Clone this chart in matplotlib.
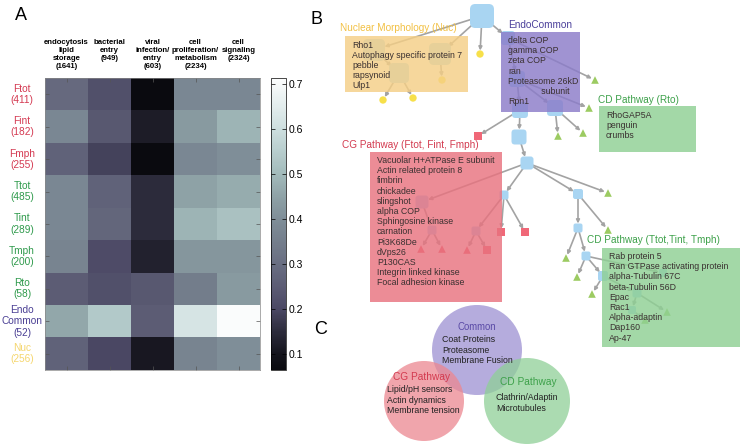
import matplotlib
matplotlib.use("Agg")
import matplotlib.pyplot as plt
from matplotlib.patches import FancyBboxPatch, Rectangle, Circle
from matplotlib.colors import LinearSegmentedColormap
import numpy as np

plt.rcParams['font.family'] = ['Liberation Sans', 'DejaVu Sans']

# ---------------- Panel A data ----------------
col_labels = ["endocytosis\nlipid\nstorage\n(1641)", "bacterial\nentry\n(949)",
              "viral\ninfection/\nentry\n(603)", "cell\nproliferation/\nmetabolism\n(2234)",
              "cell\nsignaling\n(2324)"]
row_labels = ["Ftot\n(411)", "Fint\n(182)", "Fmph\n(255)", "Ttot\n(485)", "Tint\n(289)",
              "Tmph\n(200)", "Rto\n(58)", "Endo\nCommon\n(52)", "Nuc\n(256)"]
row_colors = ["#d43a52", "#d43a52", "#d43a52", "#2f9a4c", "#2f9a4c", "#2f9a4c", "#2f9a4c",
              "#4a3f94", "#f5d66e"]
values = np.array([
    [0.29, 0.22, 0.07, 0.38, 0.38],
    [0.38, 0.24, 0.12, 0.43, 0.49],
    [0.27, 0.19, 0.065, 0.38, 0.40],
    [0.38, 0.27, 0.15, 0.45, 0.47],
    [0.38, 0.28, 0.15, 0.49, 0.52],
    [0.37, 0.21, 0.13, 0.42, 0.42],
    [0.25, 0.22, 0.24, 0.35, 0.43],
    [0.46, 0.54, 0.25, 0.62, 0.71],
    [0.27, 0.20, 0.11, 0.37, 0.40],
])
cbar_ticks = [0.1, 0.2, 0.3, 0.4, 0.5, 0.6, 0.7]

# colormap stops (value, rgb) sampled from the reference colorbar
cmap_vals = [0.065, 0.10, 0.15, 0.20, 0.25, 0.30, 0.35, 0.40, 0.45, 0.50, 0.55, 0.60, 0.65, 0.713]
cmap_rgb = [(10, 10, 15), (20, 20, 28), (45, 44, 60), (75, 72, 100), (92, 92, 116),
            (105, 110, 130), (116, 126, 140), (127, 142, 152), (142, 162, 166),
            (162, 186, 186), (183, 205, 205), (205, 222, 222), (226, 236, 236), (252, 253, 253)]

# ---------------- Panel B data ----------------
nodes = {
    "root": (482, 16, "hub", 24), "na": (374, 50, "hub", 22), "nb": (440, 54, "hub", 22),
    "nc": (399, 73, "hub", 20), "d1": (480, 54, "dot", 0), "d2": (442, 80, "dot", 0),
    "d3": (383, 100, "dot", 0), "d4": (413, 98, "dot", 0),
    "e0": (508, 38, "hub", 14), "e1": (517, 79, "hub", 16), "e2": (520, 110, "hub", 16),
    "e3": (555, 108, "hub", 16), "t1": (595, 80, "tri", 0), "t2": (589, 108, "tri", 0),
    "t3": (558, 136, "tri", 0), "t4": (583, 133, "tri", 0), "s1": (478, 136, "sq", 0),
    "h1": (519, 137, "hub", 15), "h2": (527, 163, "hub", 13), "h3": (504, 195, "hub", 9),
    "h4": (578, 194, "hub", 10), "t5": (608, 193, "tri", 0), "g1": (422, 202, "hub", 13),
    "g2": (432, 230, "hub", 9), "rt1": (421, 249, "rtri", 0), "rt2": (442, 249, "rtri", 0),
    "h5": (476, 231, "hub", 9), "s2": (501, 232, "sq", 0), "s3": (525, 232, "sq", 0),
    "rt3": (467, 250, "rtri", 0), "s4": (487, 250, "sq", 0), "h6": (578, 228, "hub", 9),
    "t6": (608, 230, "tri", 0), "h7": (586, 256, "hub", 9), "t7": (566, 258, "tri", 0),
    "h8": (603, 276, "hub", 10), "t8": (577, 277, "tri", 0), "t9": (592, 294, "tri", 0),
    "h9": (663, 273, "hub", 8), "h10": (637, 293, "hub", 9), "t10": (667, 312, "tri", 0),
    "h11": (632, 310, "hub", 8), "t11": (645, 320, "tri", 0),
}
edges = [("root", "na"), ("root", "nb"), ("root", "d1"), ("root", "e0"), ("na", "nc"),
         ("nc", "d3"), ("nc", "d4"), ("nb", "d2"), ("e0", "t1"), ("e0", "e1"), ("e1", "e2"),
         ("e1", "e3"), ("e1", "t2"), ("e3", "t3"), ("e3", "t4"), ("e2", "s1"), ("e2", "h1"),
         ("h1", "h2"), ("h2", "g1"), ("h2", "h3"), ("h2", "h4"), ("h2", "t5"), ("g1", "g2"),
         ("g2", "rt1"), ("g2", "rt2"), ("h3", "h5"), ("h3", "s2"), ("h3", "s3"), ("h5", "rt3"),
         ("h5", "s4"), ("h4", "h6"), ("h4", "t6"), ("h6", "h7"), ("h6", "t7"), ("h7", "h8"),
         ("h7", "t8"), ("h7", "h9"), ("h8", "t9"), ("h8", "h10"), ("h10", "h11"),
         ("h10", "t10"), ("h11", "t11")]

boxes = [
    # x0, y0, x1, y1, face, title, title_x, title_y, title_color, lines
    (345, 36, 468, 92, "#f5cf86", "Nuclear Morphology (Nuc)", 340, 28, "#f2c043",
     ["Rho1", "Autophagy specific protein 7", "pebble", "rapsynoid", "Ulp1"]),
    (501, 32, 580, 112, "#8b7cc9", "EndoCommon", 508, 25, "#4a3f9a",
     ["delta COP", "gamma COP", "zeta COP", "ran", "Proteasome 26kD", "              subunit", "Rpn1"]),
    (599, 106, 696, 152, "#8fd094", "CD Pathway (Rto)", 598, 100, "#3da14a",
     ["RhoGAP5A", "penguin", "crumbs"]),
    (370, 152, 502, 302, "#e8737f", "CG Pathway (Ftot, Fint, Fmph)", 342, 145, "#d33a4f",
     ["Vacuolar H+ATPase E subunit", "Actin related protein 8", "fimbrin", "chickadee",
      "slingshot", "alpha COP", "Sphingosine kinase", "carnation", "Pi3K68De", "dVps26",
      "P130CAS", "Integrin linked kinase", "Focal adhesion kinase"]),
    (602, 248, 740, 347, "#8fd094", "CD Pathway (Ttot,Tint, Tmph)", 587, 240, "#3da14a",
     ["Rab protein 5", "Ran GTPase activating protein", "alpha-Tubulin 67C", "beta-Tubulin 56D",
      "Epac", "Rac1", "Alpha-adaptin", "Dap160", "Ap-47"]),
]

# ---------------- Panel C data ----------------
venn = [
    # cx, cy, r, face, title, title_color, lines
    (477, 350, 45, "#9d91d2", "Common", "#5a4aa6", ["Coat Proteins", "Proteasome", "Membrane Fusion"]),
    (424, 401, 40, "#ec8790", "CG Pathway", "#d33a4f", ["Lipid/pH sensors", "Actin dynamics", "Membrane tension"]),
    (527, 401, 43, "#8fd097", "CD Pathway", "#3da14a", ["Clathrin/Adaptin", "Microtubules"]),
]

W, H = 740, 445
fig = plt.figure(figsize=(W / 100, H / 100), dpi=100)

def rect(x0, y0, x1, y1):
    return [x0 / W, 1 - y1 / H, (x1 - x0) / W, (y1 - y0) / H]

# ---------------- Panel A ----------------
vmin, vmax = cmap_vals[0], cmap_vals[-1]
cmap = LinearSegmentedColormap.from_list(
    "refbone", [((v - vmin) / (vmax - vmin), tuple(c / 255 for c in rgb))
                for v, rgb in zip(cmap_vals, cmap_rgb)])
ax = fig.add_axes(rect(45, 78, 260, 370))
im = ax.imshow(values, cmap=cmap, vmin=vmin, vmax=vmax, aspect="auto", interpolation="nearest")
ax.set_xticks(range(values.shape[1]))
ax.set_yticks(range(values.shape[0]))
ax.set_xticklabels([])
ax.set_yticklabels([])
ax.tick_params(direction="in", length=3, width=0.5, color="#555555",
               top=True, bottom=True, left=True, right=True)
for s in ax.spines.values():
    s.set_linewidth(0.5)
    s.set_color("#888888")
for j, lab in enumerate(col_labels):
    ax.text(j, -0.5 - 39 / 32.4, lab, ha="center", va="top", fontsize=5.6, fontweight="bold",
            linespacing=1.22, clip_on=False)
for i, (lab, c) in enumerate(zip(row_labels, row_colors)):
    ax.text(-0.5 - 23 / 43, i, lab, ha="center", va="center", fontsize=7.3, color=c,
            linespacing=1.15, clip_on=False)

cax = fig.add_axes(rect(271, 78, 286, 370))
cb = fig.colorbar(im, cax=cax)
cb.set_ticks(cbar_ticks)
cb.set_ticklabels([f"{t:.1f}" for t in cbar_ticks])
cax.tick_params(direction="in", length=3, width=0.5, left=True, right=True, labelsize=7.5, pad=2)
cb.outline.set_linewidth(0.5)

# ---------------- overlay for panels B & C ----------------
ov = fig.add_axes([0, 0, 1, 1], facecolor="none")
ov.set_xlim(0, W)
ov.set_ylim(H, 0)
ov.axis("off")

ov.text(15, 16, "A", fontsize=13, ha="left", va="center")
ov.text(311, 19, "B", fontsize=13, ha="left", va="center")
ov.text(314, 330, "C", fontsize=13, ha="left", va="center")

edge_col = "#a3a3a3"
for a, b in edges:
    xa, ya, ka, sa = nodes[a]
    xb, yb, kb, sb = nodes[b]
    shA = (sa / 2 if ka == "hub" else 3) / 1.39
    shB = (sb / 2 if kb == "hub" else 3.5) / 1.39
    ov.annotate("", xy=(xb, yb), xytext=(xa, ya),
                arrowprops=dict(arrowstyle="-|>", color=edge_col, lw=1.2,
                                mutation_scale=5, shrinkA=shA, shrinkB=shB),
                zorder=1)

for name, (x, y, k, s) in nodes.items():
    if k == "hub":
        p = FancyBboxPatch((x - s / 2, y - s / 2), s, s,
                           boxstyle=f"round,pad=0,rounding_size={s * 0.22}",
                           fc="#a9d5f2", ec="none", zorder=2)
        ov.add_patch(p)
    elif k == "tri":
        ov.scatter([x], [y], marker="^", s=30, c="#9ccb62", edgecolors="none", zorder=2)
    elif k == "rtri":
        ov.scatter([x], [y], marker="^", s=30, c="#ee5a6c", edgecolors="none", zorder=2)
    elif k == "sq":
        ov.scatter([x], [y], marker="s", s=30, c="#f06878", edgecolors="none", zorder=2)
    elif k == "dot":
        ov.scatter([x], [y], marker="o", s=28, c="#f7e04a", edgecolors="none", zorder=2)

for (x0, y0, x1, y1, fc, title, tx, ty, tc, lines) in boxes:
    ov.add_patch(Rectangle((x0, y0), x1 - x0, y1 - y0, fc=fc, ec="none", alpha=0.82, zorder=3))
    ov.text(tx, ty, title, fontsize=7.2, color=tc, ha="left", va="center", zorder=4)
    step = 10.2
    y_start = y0 + 8.5 if len(lines) > 5 else y0 + 9
    for k, line in enumerate(lines):
        ov.text(x0 + 7, y_start + k * step, line, fontsize=6.3, color="#3a3030",
                ha="left", va="center", zorder=4)

for (cx, cy, r, fc, title, tc, lines) in venn:
    ov.add_patch(Circle((cx, cy), r, fc=fc, ec="none", alpha=0.75, zorder=2))
for (cx, cy, r, fc, title, tc, lines) in venn:
    if title == "Common":
        ov.text(cx, cy - 23, title, fontsize=6.9, color=tc, ha="center", va="center", zorder=4)
        x_txt, y_txt = cx - 35, cy - 10
    elif title == "CG Pathway":
        ov.text(cx - 2, cy - 24, title, fontsize=7.3, color=tc, ha="center", va="center", zorder=4)
        x_txt, y_txt = cx - 37, cy - 11
    else:
        ov.text(cx + 1, cy - 19, title, fontsize=7.3, color=tc, ha="center", va="center", zorder=4)
        x_txt, y_txt = cx - 31, cy - 3
    for k, line in enumerate(lines):
        ov.text(x_txt, y_txt + k * 10.3, line, fontsize=6.3, color="#222222",
                ha="left", va="center", zorder=4)

fig.savefig("out.png", dpi=100)
